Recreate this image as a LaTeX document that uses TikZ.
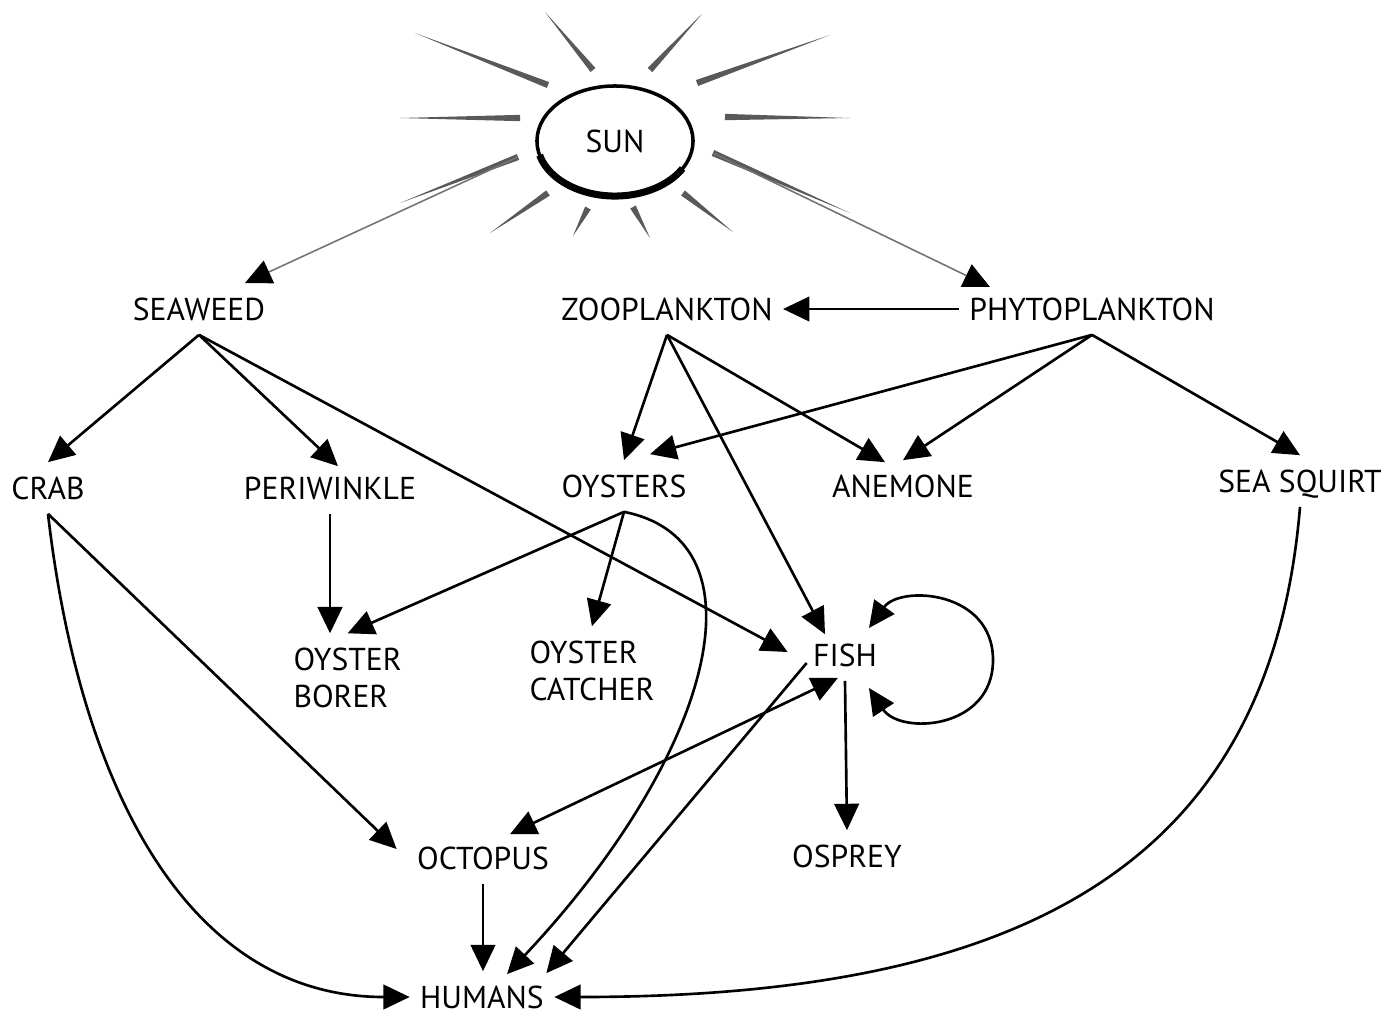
\documentclass[tikz,border=0pt]{standalone}
\usepackage{fontspec}
\setmainfont{PT Sans}
\usepackage{tikz}
\usetikzlibrary{arrows.meta, calc, positioning, shapes.geometric}

\tikzset{
  sp/.style = {inner xsep=2.8pt, inner ysep=4pt, text height=6.3pt, text depth=0pt},
  sptwo/.style = {inner xsep=2.8pt, inner ysep=4pt, align=left, anchor=west},
  feed/.style = {line width=0.75pt, -{Triangle[length=7.5pt,width=7pt]}},
  both/.style = {line width=0.75pt, {Triangle[length=7.5pt,width=7pt]}-{Triangle[length=7.5pt,width=7pt]}},
  sunfeed/.style = {black!55, line width=0.45pt, -{Triangle[length=7.5pt,width=7pt,color=black]}},
  sunray/.style = {fill=black!65},
}

\begin{document}
\begin{tikzpicture}[x=0.01cm, y=-0.01cm,
    every node/.style={font=\fontsize{9}{10.5}\selectfont}]
\useasboundingbox (0,0) rectangle (1399,1014);
%
% the sun
\node[draw, ellipse, line width=1pt, minimum width=1.56cm, minimum height=1.1cm,
      inner sep=0pt] (sun) at (615,141) {SUN};
\draw[line width=2pt] ([shift={(195:0.78cm and 0.55cm)}]sun.center)
  arc[start angle=195, end angle=330, x radius=0.78cm, y radius=0.55cm];
\foreach \ox/\oy/\ix/\iy in {415/33/548/85, 545/12/593/70, 702/14/650/70,
    830/35/697/83, 400/118/520/118, 850/118/725/117, 400/203/518/157,
    850/213/713/153, 490/233/548/193, 573/236/588/208, 650/238/633/207,
    733/232/683/193}
  \fill[sunray] (\ox,\oy) -- ($(\ix,\iy)!0.9pt!90:(\ox,\oy)$)
    -- ($(\ix,\iy)!0.9pt!-90:(\ox,\oy)$) -- cycle;
%
% the food web
\node[sp] (seaweed) at (199,309) {SEAWEED};
\node[sp] (zoo) at (667,309) {ZOOPLANKTON};
\node[sp] (phyto) at (1092,309) {PHYTOPLANKTON};
\node[sp] (crab) at (48,488) {CRAB};
\node[sp] (peri) at (330,488) {PERIWINKLE};
\node[sp] (oysters) at (624,486) {OYSTERS};
\node[sp] (anemone) at (903,486) {ANEMONE};
\node[sp] (squirt) at (1300,481) {SEA SQUIRT};
\node[sptwo] (borer) at (283,678) {OYSTER\\BORER};
\node[sptwo] (catcher) at (519,671) {OYSTER\\CATCHER};
\node[sp] (fish) at (845,655) {FISH};
\node[sp] (osprey) at (847,856) {OSPREY};
\node[sp] (octopus) at (483,858) {OCTOPUS};
\node[sp] (humans) at (482,997) {HUMANS};
%
\draw[sunfeed] ([shift={(-97,16)}]sun.center) -- ([shift={(46,-26)}]seaweed.center);
\draw[sunfeed] ([shift={(98,12)}]sun.center) -- ([shift={(-102,-22)}]phyto.center);
%
\draw[feed] (phyto.west) -- (zoo.east);
\draw[feed] (seaweed.south) -- (crab.north);
\draw[feed] (seaweed.south) -- ([shift={(8,4)}]peri.north);
\draw[feed] (seaweed.south) -- ([shift={(-15,-3)}]fish.west);
\draw[feed] (zoo.south) -- (oysters.north);
\draw[feed] (zoo.south) -- ([shift={(-18,2)}]anemone.north);
\draw[feed] (zoo.south) -- ([shift={(-20,5)}]fish.north);
\draw[feed] (phyto.south) -- ([shift={(26,-6)}]oysters.north);
\draw[feed] (phyto.south) -- (anemone.north);
\draw[feed] (phyto.south) -- (squirt.north);
\draw[feed] (peri.south) -- (peri.south |- borer.north);
\draw[feed] (oysters.south) -- (borer.north);
\draw[feed] (oysters.south) -- (catcher.north);
\draw[feed] (oysters.south) .. controls +(146,29) and +(205,-218) .. ([shift={(25,3)}]humans.north);
\draw[feed] (crab.south) -- ([shift={(-10,-9)}]octopus.west);
\draw[feed] (crab.south) .. controls +(32,277) and +(-220,0) .. (humans.west);
\draw[feed] (squirt.south) .. controls +(-30,364) and +(460,0) .. (humans.east);
\draw[feed] (octopus.south) -- (octopus.south |- humans.north);
\draw[both] ([shift={(-7,-3)}]fish.south) -- ([shift={(27,2)}]octopus.north);
\draw[feed] ([shift={(4,8)}]fish.west) -- ([shift={(-8,2)}]humans.north east);
\draw[feed] (fish.south) -- (osprey.north);
\draw[both] ([shift={(24,-27)}]fish.center) .. controls +(31,-43) and +(0,-70) .. (993,660)
  .. controls +(0,70) and +(31,47) .. ([shift={(24,33)}]fish.center);
%
\end{tikzpicture}
\end{document}
